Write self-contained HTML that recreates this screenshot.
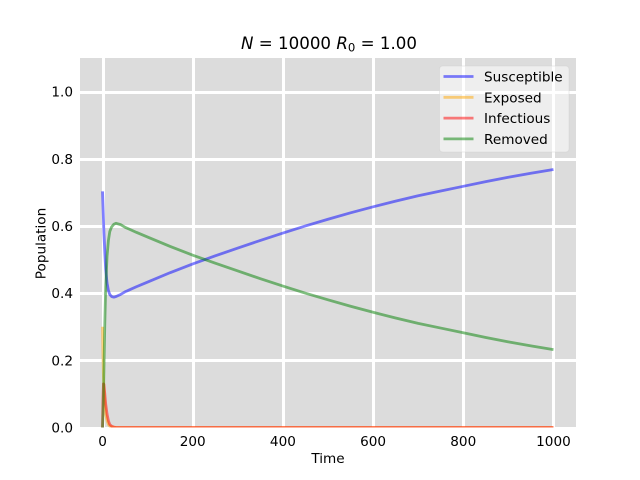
<!DOCTYPE html>
<html><head><meta charset="utf-8"><style>
html,body{margin:0;padding:0;background:#fff}
svg{display:block}
text{font-family:"DejaVu Sans",sans-serif;fill:#000}
</style></head><body>
<svg id="chart" width="640" height="480" viewBox="0 0 640 480" xmlns="http://www.w3.org/2000/svg">
<defs><clipPath id="plot-clip"><rect x="80" y="58" width="496" height="369.5"/></clipPath></defs>
<rect x="80" y="58" width="496" height="369.5" fill="#dcdcdc"/>
<g id="grid"></g>
<g id="series" clip-path="url(#plot-clip)"></g>
<g id="ticks"></g>
<text x="329" y="49" text-anchor="middle" font-size="16.67"><tspan font-style="italic">N</tspan> = 10000 <tspan font-style="italic">R</tspan><tspan font-size="11.7" dy="2.5">0</tspan><tspan dy="-2.5"> = 1.00</tspan></text>
<text x="328" y="463" text-anchor="middle" font-size="13.6">Time</text>
<text transform="translate(45.5 243.5) rotate(-90)" text-anchor="middle" font-size="13.6">Population</text>
<g id="legend">
<rect x="439.5" y="66" width="129.5" height="86" rx="3" fill="#fff" fill-opacity="0.5" stroke="#ccc" stroke-opacity="0.4" stroke-width="1"/>
</g>
</svg>
<script>
const xTicks = [0, 200, 400, 600, 800, 1000];
const yTicks = [0, 0.2, 0.4, 0.6, 0.8, 1.0];
const yTickLabels = ['0.0', '0.2', '0.4', '0.6', '0.8', '1.0'];
const seriesNames = ['Susceptible', 'Exposed', 'Infectious', 'Removed'];
const seriesColors = ['#0000ff', '#ffa500', '#ff0000', '#008000'];
const times = [0, 1, 2, 3, 5, 7, 10, 13, 16, 20, 25, 30, 40, 50, 75, 100, 150, 200, 250, 300, 350, 400, 450, 500, 550, 600, 650, 700, 750, 800, 850, 900, 950, 1000];
const susceptible = [0.703, 0.66, 0.62, 0.58, 0.52, 0.47, 0.43, 0.408, 0.396, 0.39, 0.388, 0.39, 0.396, 0.404, 0.419, 0.433, 0.461, 0.487, 0.511, 0.534, 0.557, 0.579, 0.60, 0.62, 0.639, 0.657, 0.674, 0.69, 0.704, 0.718, 0.732, 0.745, 0.757, 0.768];
const exposed = [0.30, 0.21, 0.15, 0.12, 0.07, 0.04, 0.02, 0.009, 0.004, 0.002, 0.001, 0, 0, 0, 0, 0, 0, 0, 0, 0, 0, 0, 0, 0, 0, 0, 0, 0, 0, 0, 0, 0, 0, 0];
const infectious = [0, 0.09, 0.13, 0.128, 0.10, 0.07, 0.04, 0.02, 0.009, 0.004, 0.001, 0, 0, 0, 0, 0, 0, 0, 0, 0, 0, 0, 0, 0, 0, 0, 0, 0, 0, 0, 0, 0, 0, 0];
const removed = [0, 0.04, 0.10, 0.17, 0.31, 0.42, 0.51, 0.557, 0.583, 0.597, 0.605, 0.608, 0.604, 0.596, 0.581, 0.567, 0.539, 0.513, 0.489, 0.466, 0.443, 0.421, 0.40, 0.38, 0.361, 0.343, 0.326, 0.31, 0.296, 0.282, 0.268, 0.255, 0.243, 0.232];
const seriesValues = [susceptible, exposed, infectious, removed];

const NS = 'http://www.w3.org/2000/svg';
const xScale = function (v) { return 80 + (v + 50) / 1100 * 496; };
const yScale = function (v) { return 427.5 - v / 1.1 * 369.5; };
const gridG = document.getElementById('grid');
const ticksG = document.getElementById('ticks');
const seriesG = document.getElementById('series');
const legendG = document.getElementById('legend');

function make(tag, attrs, parent) {
  const el = document.createElementNS(NS, tag);
  Object.keys(attrs).forEach(function (k) { el.setAttribute(k, attrs[k]); });
  parent.appendChild(el);
  return el;
}

xTicks.forEach(function (t) {
  const gx = Math.round(xScale(t)) + 0.5;
  const line = make('line', { x1: gx, x2: gx, y1: 58, y2: 427.5, stroke: '#fff', 'stroke-width': 3 }, gridG);
  
  
  const label = make('text', { x: xScale(t), y: 446, 'text-anchor': 'middle', 'font-size': 13.6 }, ticksG);
  label.textContent = String(t);
  
  
});

yTicks.forEach(function (v, i) {
  const gy = Math.round(yScale(v)) + 0.5;
  const line = make('line', { x1: 80, x2: 576, y1: gy, y2: gy, stroke: '#fff', 'stroke-width': 3 }, gridG);
  
  
  const label = make('text', { x: 73, y: yScale(v) + 5, 'text-anchor': 'end', 'font-size': 13.6 }, ticksG);
  label.textContent = yTickLabels[i];
  
  
});

seriesValues.forEach(function (vals, i) {
  const pts = vals.map(function (v, j) { return xScale(times[j]).toFixed(2) + ',' + yScale(v).toFixed(2); }).join(' ');
  const line = make('polyline', { points: pts, fill: 'none', stroke: seriesColors[i], 'stroke-opacity': 0.5, 'stroke-width': 2.78, 'stroke-linejoin': 'round' }, seriesG);
  
  
  const y = 76.5 + i * 20.8;
  const key = make('line', { x1: 443.5, x2: 473.5, y1: y, y2: y, stroke: seriesColors[i], 'stroke-opacity': 0.5, 'stroke-width': 2.78 }, legendG);
  
  
  const label = make('text', { x: 484, y: y + 5, 'font-size': 13.6 }, legendG);
  label.textContent = seriesNames[i];
  
  
});
</script>
</body></html>
